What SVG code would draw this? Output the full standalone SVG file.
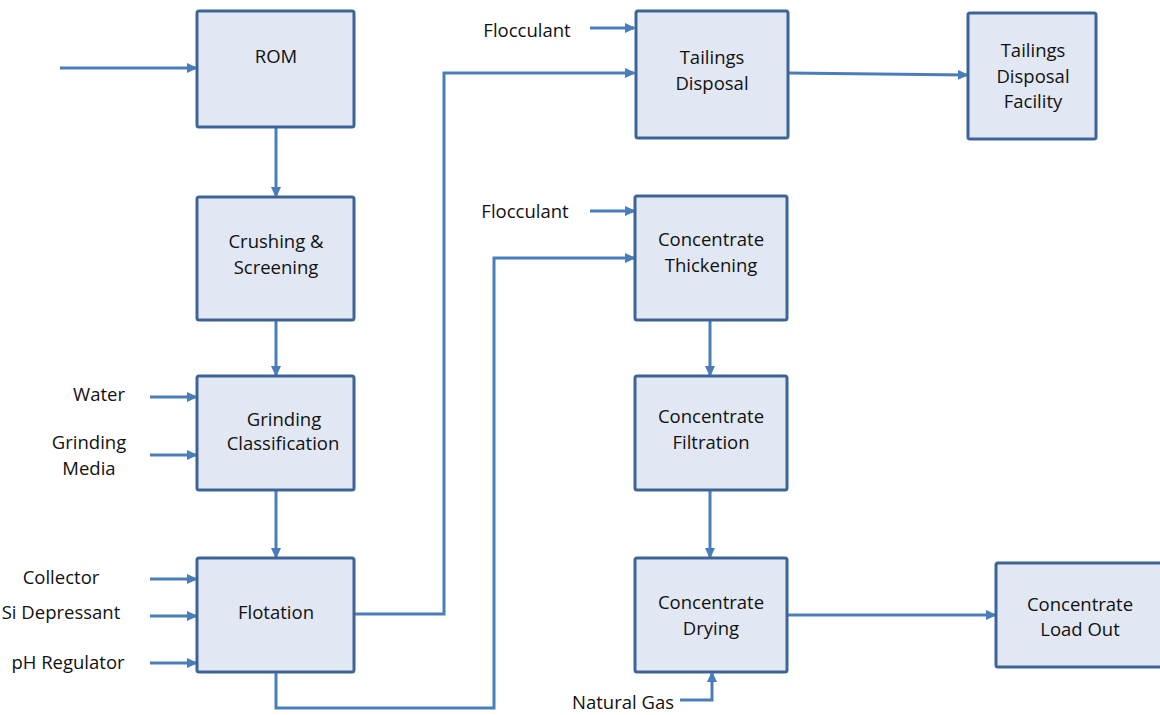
<svg xmlns="http://www.w3.org/2000/svg" width="1160" height="715" viewBox="0 0 1160 715">
<defs>
<marker id="ah" markerWidth="11" markerHeight="10" refX="9" refY="5" orient="auto" markerUnits="userSpaceOnUse" viewBox="0 0 11 10">
<path d="M0,0 L11,5 L0,10 z" fill="#4A7EBB"/>
</marker>
<style>
.box{fill:#E1E8F3;stroke:#3E6497;stroke-width:3;}
.t{font-family:"Open Sans","Liberation Sans",sans-serif;font-size:18.5px;fill:#111;text-anchor:middle;}
.c{fill:none;stroke:#4A7EBB;stroke-width:3;}
.a{marker-end:url(#ah);}
</style>
</defs>
<rect width="1160" height="715" fill="#fff"/>
<g id="connectors">
<path class="c a" d="M60,68 H196"/>
<path class="c a" d="M276,127 V196"/>
<path class="c a" d="M276,320 V375"/>
<path class="c a" d="M276,490 V557"/>
<path class="c a" d="M150,397 H196"/>
<path class="c a" d="M150,455 H196"/>
<path class="c a" d="M150,579 H196"/>
<path class="c a" d="M150,616 H196"/>
<path class="c a" d="M150,663 H196"/>
<path class="c a" d="M354,614 H444 V73 H634"/>
<path class="c a" d="M276,672 V708 H494 V258 H634"/>
<path class="c a" d="M590,28 H634"/>
<path class="c a" d="M590,211 H634"/>
<path class="c a" d="M788,73 L967,75"/>
<path class="c a" d="M710,320 V375"/>
<path class="c a" d="M710,490 V557"/>
<path class="c a" d="M680,700 H712 V673"/>
<path class="c a" d="M787,615 H995"/>
</g>
<g id="rom"><rect class="box" x="197" y="11" width="157" height="116" rx="2"/><text class="t" x="276" y="63">ROM</text></g>
<g id="crushing"><rect class="box" x="197" y="197" width="157" height="123" rx="2"/><text class="t" x="276" y="248">Crushing &amp;</text><text class="t" x="276" y="274">Screening</text></g>
<g id="grinding"><rect class="box" x="197" y="376" width="157" height="114" rx="2"/><text class="t" x="284" y="426">Grinding</text><text class="t" x="283" y="450">Classification</text></g>
<g id="flotation"><rect class="box" x="197" y="558" width="157" height="114" rx="2"/><text class="t" x="276" y="619">Flotation</text></g>
<g id="tailings"><rect class="box" x="636" y="11" width="152" height="127" rx="2"/><text class="t" x="712" y="64">Tailings</text><text class="t" x="712" y="90">Disposal</text></g>
<g id="tdf"><rect class="box" x="968" y="13" width="128" height="126" rx="2"/><text class="t" x="1033" y="57">Tailings</text><text class="t" x="1033" y="83">Disposal</text><text class="t" x="1033" y="108">Facility</text></g>
<g id="thickening"><rect class="box" x="635" y="196" width="152" height="124" rx="2"/><text class="t" x="711" y="246">Concentrate</text><text class="t" x="711" y="272">Thickening</text></g>
<g id="filtration"><rect class="box" x="635" y="376" width="152" height="114" rx="2"/><text class="t" x="711" y="423">Concentrate</text><text class="t" x="711" y="449">Filtration</text></g>
<g id="drying"><rect class="box" x="635" y="558" width="152" height="114" rx="2"/><text class="t" x="711" y="609">Concentrate</text><text class="t" x="711" y="635">Drying</text></g>
<g id="loadout"><rect class="box" x="996" y="563" width="170" height="104" rx="2"/><text class="t" x="1080" y="611">Concentrate</text><text class="t" x="1080" y="636">Load Out</text></g>
<g id="labels">
<text class="t" x="99" y="401">Water</text>
<text class="t" x="89" y="449">Grinding</text>
<text class="t" x="89" y="475">Media</text>
<text class="t" x="61" y="584">Collector</text>
<text class="t" x="61" y="619">Si Depressant</text>
<text class="t" x="68" y="669">pH Regulator</text>
<text class="t" x="527" y="37">Flocculant</text>
<text class="t" x="525" y="218">Flocculant</text>
<text class="t" x="623" y="709">Natural Gas</text>
</g>
</svg>
